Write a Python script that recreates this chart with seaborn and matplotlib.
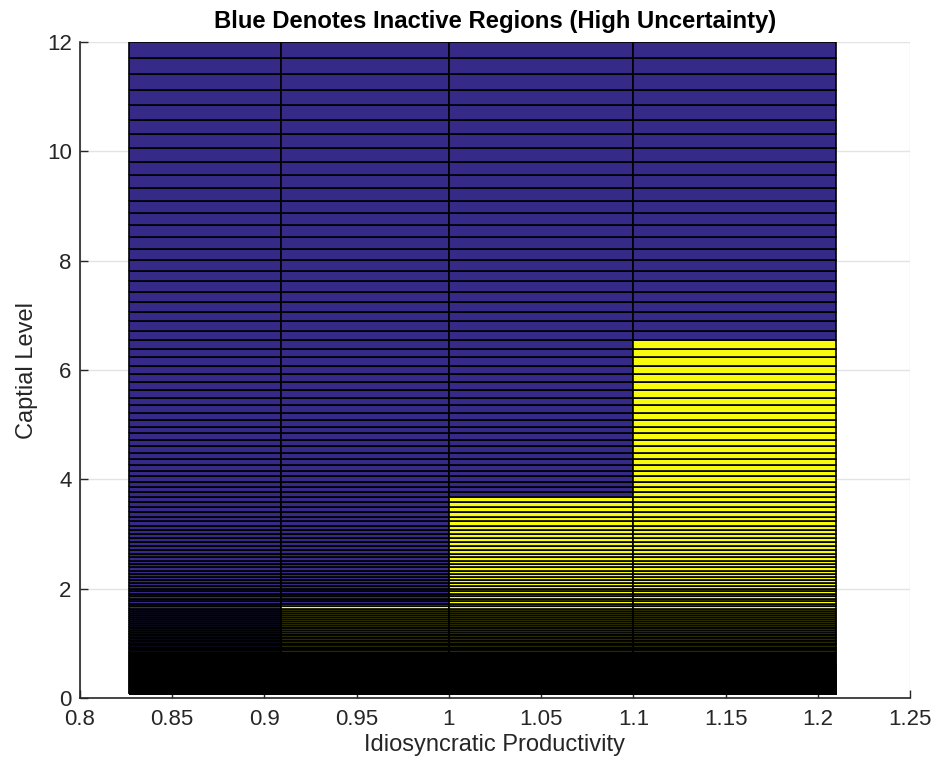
import numpy as np
import pandas as pd
import matplotlib
matplotlib.use("Agg")
import matplotlib.pyplot as plt
from matplotlib.colors import ListedColormap
import seaborn as sns

# ---- data ----
# productivity grid nodes (cell edges along x)
productivity_edges = [0.8264, 0.9091, 1.0, 1.1, 1.21]
# capital grid: geometric grid from k_min to k_max
capital_min = 0.07
capital_max = 12.0
capital_nodes = 205
# capital level below which the firm is active (yellow), per productivity column
active_threshold = [0.0, 1.70, 3.63, 6.52]

state_labels = ["Inactive", "Active"]
state_colors = ["#352a87", "#f9fb0e"]

title = "Blue Denotes Inactive Regions (High Uncertainty)"
xlabel = "Idiosyncratic Productivity"
ylabel = "Captial Level"
xticks = [0.8, 0.85, 0.9, 0.95, 1.0, 1.05, 1.1, 1.15, 1.2, 1.25]
xtick_labels = ["0.8", "0.85", "0.9", "0.95", "1", "1.05", "1.1", "1.15", "1.2", "1.25"]
yticks = [0, 2, 4, 6, 8, 10, 12]

# ---- build the cell table ----
capital_edges = np.geomspace(capital_min, capital_max, capital_nodes)
rows = []
for i in range(len(productivity_edges) - 1):
    xc = 0.5 * (productivity_edges[i] + productivity_edges[i + 1])
    for j in range(len(capital_edges) - 1):
        yc = 0.5 * (capital_edges[j] + capital_edges[j + 1])
        active = capital_edges[j] < active_threshold[i] - 1e-9
        rows.append({"productivity": xc, "capital": yc, "state": 2.0 if active else 1.0})
df = pd.DataFrame(rows)

# ---- plot ----
sns.set_theme(style="whitegrid")
plt.rcParams["font.family"] = ["Liberation Sans", "DejaVu Sans"]

fig = plt.figure(figsize=(9.36, 7.64), dpi=100)
ax = fig.add_axes([80 / 936, 1 - 698 / 764, (910 - 80) / 936, (698 - 42) / 764])

sns.histplot(
    data=df, x="productivity", y="capital", weights="state",
    bins=(np.array(productivity_edges), capital_edges),
    cmap=ListedColormap(state_colors), vmin=0.5, vmax=2.5,
    edgecolor="black", linewidth=1.2, antialiased=True, ax=ax,
)

ax.set_xlim(0.8, 1.25)
ax.set_ylim(0, 12)
ax.set_xticks(xticks)
ax.set_xticklabels(xtick_labels)
ax.set_yticks(yticks)

ax.set_title(title, fontsize=17.2, fontweight="bold", color="black", pad=10)
ax.set_xlabel(xlabel, fontsize=17, color="#262626", labelpad=3)
ax.set_ylabel(ylabel, fontsize=17, color="#262626", labelpad=6)

ax.set_facecolor("white")
ax.grid(True, color="#e3e3e3", linewidth=1.0)
ax.set_axisbelow(True)
for side in ["top", "right"]:
    ax.spines[side].set_visible(False)
for side in ["left", "bottom"]:
    ax.spines[side].set_visible(True)
    ax.spines[side].set_color("#262626")
    ax.spines[side].set_linewidth(1.2)
ax.tick_params(axis="both", direction="in", length=6, width=1.0, color="#262626",
               labelsize=16, labelcolor="#262626",
               left=True, bottom=True, top=False, right=False)
ax.tick_params(axis="x", pad=8)
ax.tick_params(axis="y", pad=6)

fig.savefig("out.png", dpi=100, facecolor="white")
